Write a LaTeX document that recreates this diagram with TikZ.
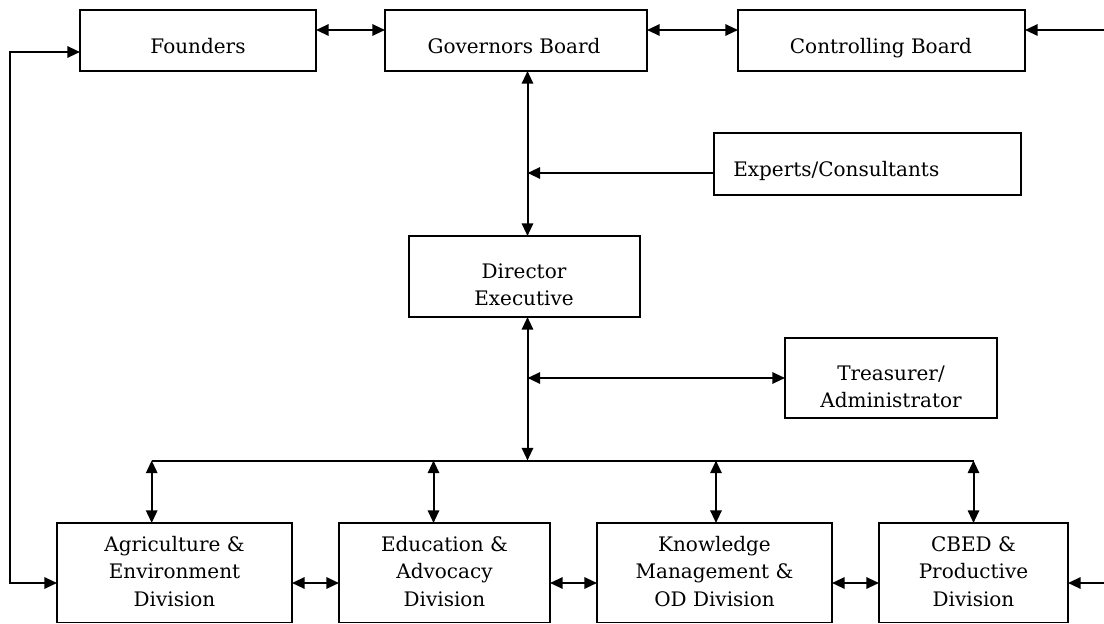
\documentclass[tikz,border=0pt]{standalone}
\usepackage{fontspec}
\setmainfont{DejaVu Serif}
\usetikzlibrary{arrows.meta}
\newcommand\ml[1]{\begin{tabular}[t]{@{}c@{}}#1\end{tabular}}
\newcommand\mybox[5]{\node[boxst, minimum width={0.75pt*(#4-#2)}, minimum height={0.75pt*(#5-#3)}] (#1) at ({(#2+#4)/2},{(#3+#5)/2}) {};}
\begin{document}
\begin{tikzpicture}[x=0.75pt,y=-0.75pt,
  >={Triangle[length=9.5pt,width=8.5pt]},
  boxst/.style={draw, rectangle, line width=1.4pt, inner sep=0pt, outer sep=0pt},
  txt/.style={inner sep=0pt, anchor=base, font=\fontsize{15}{20.6}\selectfont},
  conn/.style={line width=1.5pt}]
\useasboundingbox (0,0) rectangle (1104,624);
% boxes
\mybox{found}{80}{10}{316}{71}
\mybox{gov}{385}{10}{647}{71}
\mybox{ctrl}{738}{10}{1025}{71}
\mybox{exp}{714}{133}{1021}{195}
\mybox{dir}{409}{236}{640}{317}
\mybox{tre}{785}{338}{997}{418}
\mybox{agri}{57}{523}{292}{622.5}
\mybox{edu}{339}{523}{550}{622.5}
\mybox{know}{597}{523}{832}{622.5}
\mybox{cbed}{879}{523}{1068}{622.5}
% texts
\node[txt] (foundT) at (198,53.3) {Founders};
\node[txt] (govT) at (514,53.3) {Governors Board};
\node[txt] (ctrlT) at (881,53.3) {Controlling Board};
\node[txt, anchor=base west] (expT) at (733,177) {Experts/Consultants};
\node[txt] (dirT) at (524,278) {\ml{Director\\Executive}};
\node[txt] (treT) at (891,380) {\ml{Treasurer/\\Administrator}};
\node[txt] (agriT) at (174.5,551.5) {\ml{Agriculture \&\\Environment\\Division}};
\node[txt] (eduT) at (444.5,551.5) {\ml{Education \&\\Advocacy\\Division}};
\node[txt] (knowT) at (714.5,551.5) {\ml{Knowledge\\Management \&\\OD Division}};
\node[txt] (cbedT) at (973.5,551.5) {\ml{CBED \&\\Productive\\Division}};
% helper coordinates
\coordinate (ty) at (0,30);
\coordinate (by) at (0,583);
\coordinate (vx) at (527.5,0);
\coordinate (ey) at (0,173);
\coordinate (tey) at (0,378);
\coordinate (lt) at (10,52);
\coordinate (lb) at (10,583);
\coordinate (rt) at (1104,30);
\coordinate (rb) at (1104,583);
\coordinate (busL) at (151.7,460.5);
\coordinate (busC) at (527.5,460.5);
\coordinate (bE) at (433.5,460.5);
\coordinate (bK) at (716,460.5);
\coordinate (busR) at (973.5,460.5);
% top row
\draw[conn,<->] (ty -| found.east) -- (ty -| gov.west);
\draw[conn,<->] (ty -| gov.east) -- (ty -| ctrl.west);
\draw[conn,->] (rt) -- (rt -| ctrl.east);
% left loop
\draw[conn,<->] (lt -| found.west) -- (lt) -- (lb) -- (lb -| agri.west);
% main spine
\draw[conn,<->] (vx |- gov.south) -- (vx |- dir.north);
\draw[conn,->] (ey -| exp.west) -- (ey -| vx);
\draw[conn,<->] (vx |- dir.south) -- (busC);
\draw[conn,<->] (tey -| vx) -- (tey -| tre.west);
% bus
\draw[conn] (busL) -- (busR);
\draw[conn,<->] (busL) -- (busL |- agri.north);
\draw[conn,<->] (bE) -- (bE |- edu.north);
\draw[conn,<->] (bK) -- (bK |- know.north);
\draw[conn,<->] (busR) -- (busR |- cbed.north);
% bottom row
\draw[conn,<->] (by -| agri.east) -- (by -| edu.west);
\draw[conn,<->] (by -| edu.east) -- (by -| know.west);
\draw[conn,<->] (by -| know.east) -- (by -| cbed.west);
\draw[conn,->] (rb) -- (rb -| cbed.east);
\end{tikzpicture}
\end{document}
